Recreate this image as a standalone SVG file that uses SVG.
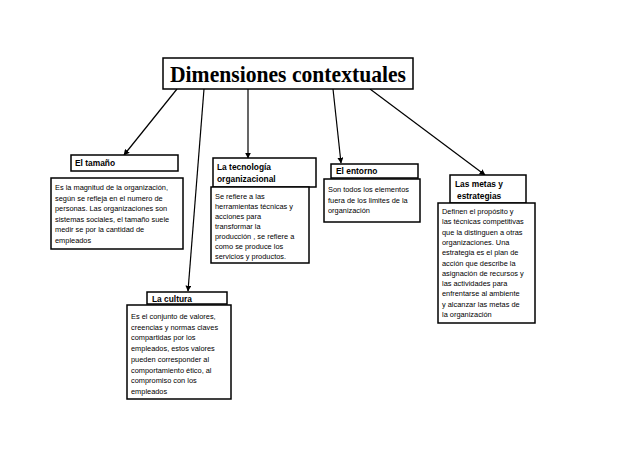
<svg xmlns="http://www.w3.org/2000/svg" width="638" height="452" viewBox="0 0 638 452">
<defs>
<marker id="ah" viewBox="0 0 10 10" refX="9" refY="5" markerWidth="6" markerHeight="6" orient="auto" markerUnits="userSpaceOnUse">
<path d="M0,0 L10,5 L0,10 z" fill="#000"/>
</marker>
<style>
.box{fill:#fff;stroke:#000;stroke-width:1.5}
.t{font-family:"Liberation Sans",Arial,sans-serif;font-size:7.4px;fill:#000}
.h{font-family:"Liberation Sans",Arial,sans-serif;font-size:8.4px;font-weight:bold;fill:#000}
.c{stroke:#000;stroke-width:1.2;fill:none;marker-end:url(#ah)}
</style>
</defs>
<rect width="638" height="452" fill="#fff"/>
<g id="connectors">
<line class="c" x1="177" y1="89" x2="124" y2="155"/>
<line class="c" x1="204" y1="89" x2="188" y2="291"/>
<line class="c" x1="248" y1="89" x2="248" y2="158"/>
<line class="c" x1="333" y1="89" x2="341" y2="163"/>
<line class="c" x1="370" y1="89" x2="485" y2="175"/>
</g>
<g id="title">
<rect class="box" x="163" y="58" width="250" height="31"/>
<text x="288" y="82" text-anchor="middle" font-family="'Liberation Serif','Times New Roman',serif" font-size="24" font-weight="bold" textLength="236" lengthAdjust="spacingAndGlyphs">Dimensiones contextuales</text>
</g>
<g id="tamano">
<rect class="box" x="71" y="155" width="107" height="16"/>
<text class="h" x="75" y="166">El tamaño</text>
<rect class="box" x="51" y="178" width="132" height="71"/>
<text class="t" x="55" y="190">Es la magnitud de la organización,</text>
<text class="t" x="55" y="200.5">según se refleja en el numero de</text>
<text class="t" x="55" y="211">personas. Las organizaciones son</text>
<text class="t" x="55" y="221.5">sistemas sociales, el tamaño suele</text>
<text class="t" x="55" y="232">medir se por la cantidad de</text>
<text class="t" x="55" y="242.5">empleados</text>
</g>
<g id="tecnologia">
<rect class="box" x="213" y="158" width="103" height="29"/>
<text class="h" x="217" y="170">La tecnología</text>
<text class="h" x="217" y="182">organizacional</text>
<rect class="box" x="211" y="187" width="98" height="76"/>
<text class="t" x="215" y="199">Se refiere a las</text>
<text class="t" x="215" y="209">herramientas técnicas y</text>
<text class="t" x="215" y="219">acciones para</text>
<text class="t" x="215" y="229">transformar la</text>
<text class="t" x="215" y="239">producción , se refiere a</text>
<text class="t" x="215" y="249">como se produce los</text>
<text class="t" x="215" y="259">servicios y productos.</text>
</g>
<g id="entorno">
<rect class="box" x="331" y="164" width="87" height="14"/>
<text class="h" x="336" y="174">El entorno</text>
<rect class="box" x="324" y="179" width="96" height="43"/>
<text class="t" x="328" y="192">Son todos los elementos</text>
<text class="t" x="328" y="202.5">fuera de los limites de la</text>
<text class="t" x="328" y="213">organización</text>
</g>
<g id="metas">
<rect class="box" x="450" y="175" width="76" height="28"/>
<text class="h" x="455" y="187">Las metas y</text>
<text class="h" x="457" y="199">estrategias</text>
<rect class="box" x="438" y="203" width="97" height="120"/>
<text class="t" x="442" y="214">Definen el propósito y</text>
<text class="t" x="442" y="224.3">las técnicas competitivas</text>
<text class="t" x="442" y="234.6">que la distinguen a otras</text>
<text class="t" x="442" y="244.9">organizaciones. Una</text>
<text class="t" x="442" y="255.2">estrategia es el plan de</text>
<text class="t" x="442" y="265.5">acción que describe la</text>
<text class="t" x="442" y="275.8">asignación de recursos y</text>
<text class="t" x="442" y="286.1">las actividades para</text>
<text class="t" x="442" y="296.4">enfrentarse al ambiente</text>
<text class="t" x="442" y="306.7">y alcanzar las metas de</text>
<text class="t" x="442" y="317">la organización</text>
</g>
<g id="cultura">
<rect class="box" x="147" y="292" width="80" height="12"/>
<text class="h" x="152" y="302">La cultura</text>
<rect class="box" x="127" y="305" width="104" height="94"/>
<text class="t" x="131" y="319">Es el conjunto de valores,</text>
<text class="t" x="131" y="329.7">creencias y normas claves</text>
<text class="t" x="131" y="340.4">compartidas por los</text>
<text class="t" x="131" y="351.1">empleados, estos valores</text>
<text class="t" x="131" y="361.8">pueden corresponder al</text>
<text class="t" x="131" y="372.5">comportamiento ético, al</text>
<text class="t" x="131" y="383.2">compromiso con los</text>
<text class="t" x="131" y="393.9">empleados</text>
</g>
</svg>
